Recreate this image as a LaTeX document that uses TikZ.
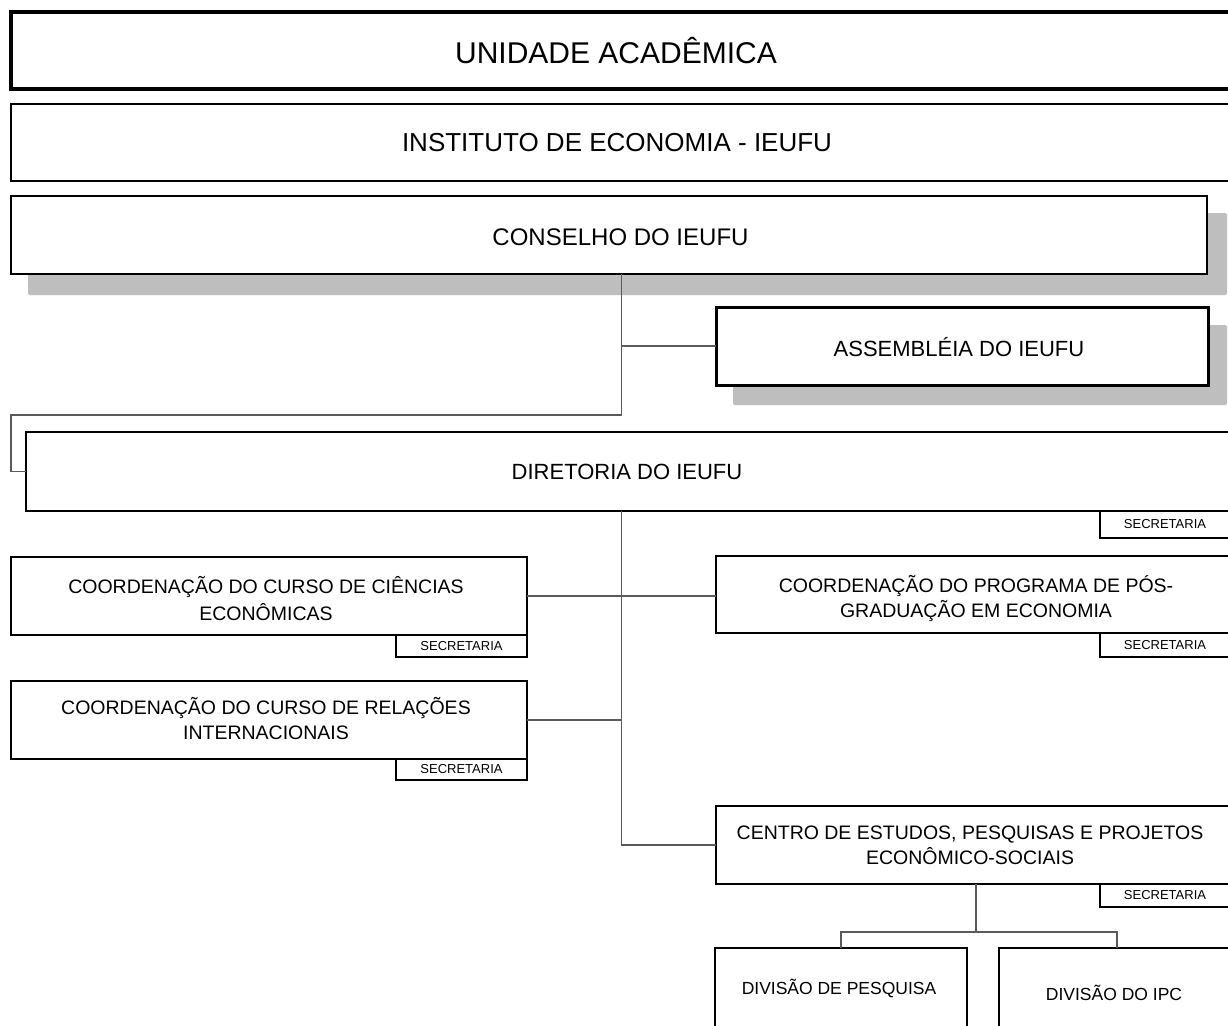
\documentclass[tikz,border=0pt]{standalone}
\usepackage{fontspec}
\setmainfont{Liberation Sans}
\definecolor{shadowgray}{HTML}{BEBEBE}
\definecolor{conngray}{HTML}{5A5A5A}
\begin{document}
\begin{tikzpicture}[x=1pt,y=-1pt,
  box/.style={draw=black, fill=white, rectangle, inner sep=0pt, outer sep=0pt, anchor=north west},
  txt/.style={inner sep=0pt, align=center, text=black},
  tabbox/.style={draw=black, fill=white, rectangle, inner sep=0pt, outer sep=0pt, anchor=north west, line width=1.9pt, font=\fontsize{13}{15}\selectfont},
  conn/.style={draw=conngray, line width=1.1pt},
  shadowbox/.style={fill=shadowgray, rounded corners=2pt},
  fA/.style={font=\fontsize{30}{36}\selectfont},
  fB/.style={font=\fontsize{26}{31}\selectfont},
  fC/.style={font=\fontsize{24}{29}\selectfont},
  fD/.style={font=\fontsize{22}{26}\selectfont},
  fE/.style={font=\fontsize{19.5}{25}\selectfont},
  fE2/.style={font=\fontsize{19.5}{26.5}\selectfont},
  fF/.style={font=\fontsize{17.5}{21}\selectfont}]
\useasboundingbox (0,0) rectangle (1228,1025);
\clip (0,0) rectangle (1228,1025);
\fill[white] (0,0) rectangle (1228,1025);

% shadows
\fill[shadowbox] (28,213) rectangle (1227,295);
\fill[shadowbox] (733,325) rectangle (1227,405);

% boxes
\node[box, line width=4.5pt, minimum width=1239pt, minimum height=77pt,
  label={[name=tunid, txt, fA, xshift=-14.5pt]center:UNIDADE ACADÊMICA}] (unid) at (11,12) {};
\node[box, line width=2.7pt, minimum width=1239pt, minimum height=77pt,
  label={[name=tinst, txt, fB, xshift=-13.5pt]center:INSTITUTO DE ECONOMIA - IEUFU}] (inst) at (11,104) {};
\node[box, line width=2.6pt, minimum width=1196pt, minimum height=78pt,
  label={[name=tcons, txt, fC, xshift=11.5pt, yshift=-2pt]center:CONSELHO DO IEUFU}] (cons) at (11,196) {};
\node[box, line width=3pt, minimum width=492pt, minimum height=78pt,
  label={[name=tasm, txt, fD, xshift=-3pt, yshift=-1pt]center:ASSEMBLÉIA DO IEUFU}] (asm) at (716,307) {};
\node[box, line width=2.8pt, minimum width=1224pt, minimum height=79pt,
  label={[name=tdir, txt, fD, xshift=-11pt]center:DIRETORIA DO IEUFU}] (dir) at (26,432) {};
\node[box, line width=1.9pt, minimum width=516pt, minimum height=78pt,
  label={[name=tcce, txt, fE2, xshift=-3pt, yshift=-2.5pt]center:{COORDENAÇÃO DO CURSO DE CIÊNCIAS\\ECONÔMICAS}}] (cce) at (11,557) {};
\node[box, line width=1.9pt, minimum width=516pt, minimum height=78pt,
  label={[name=tcri, txt, fE, xshift=-3pt, yshift=1pt]center:{COORDENAÇÃO DO CURSO DE RELAÇÕES\\INTERNACIONAIS}}] (cri) at (11,681) {};
\node[box, line width=2pt, minimum width=534pt, minimum height=77pt,
  label={[name=tcpg, txt, fE, xshift=-7pt, yshift=-3.5pt]center:{COORDENAÇÃO DO PROGRAMA DE PÓS-\\GRADUAÇÃO EM ECONOMIA}}] (cpg) at (716,556) {};
\node[box, line width=2pt, minimum width=534pt, minimum height=78pt,
  label={[name=tcen, txt, fE, xshift=-13pt, yshift=-0.5pt]center:{CENTRO DE ESTUDOS, PESQUISAS E PROJETOS\\ECONÔMICO-SOCIAIS}}] (cen) at (716,806) {};
\node[box, line width=2.2pt, minimum width=252pt, minimum height=92pt,
  label={[name=tdiv1, txt, fF, xshift=-2pt, yshift=6pt]center:DIVISÃO DE PESQUISA}] (div1) at (715,948) {};
\node[box, line width=2.2pt, minimum width=236pt, minimum height=92pt,
  label={[name=tdiv2, txt, fF, xshift=-3pt, yshift=1pt]center:DIVISÃO DO IPC}] (div2) at (999,948) {};

% secretaria tabs
\node[tabbox, minimum width=130pt, minimum height=27pt] (sdir) at (1100,511) {SECRETARIA};
\node[tabbox, minimum width=130pt, minimum height=24pt] (scpg) at (1100,633) {SECRETARIA};
\node[tabbox, minimum width=130pt, minimum height=23pt] (scen) at (1100,884) {SECRETARIA};
\node[tabbox, minimum width=131pt, minimum height=22pt] (scce) at (396,635) {SECRETARIA};
\node[tabbox, minimum width=131pt, minimum height=21pt] (scri) at (396,759) {SECRETARIA};

% connectors
\coordinate (spine) at (621.5,0);
\coordinate (k1) at (11,415);
\coordinate (cbus) at (976,932);
\draw[conn] (cons.south -| spine) |- (k1) |- (dir.west);
\draw[conn] (spine |- asm.west) -- (asm.west);
\draw[conn] (dir.south -| spine) |- (cen.west);
\draw[conn] (cce.east) -- (cce.east -| cpg.west);
\draw[conn] (cri.east) -- (cri.east -| spine);
\draw[conn] (cen.south -| cbus) -- (cbus);
\draw[conn] (div1.north) |- (cbus) -| (div2.north);
\end{tikzpicture}
\end{document}
